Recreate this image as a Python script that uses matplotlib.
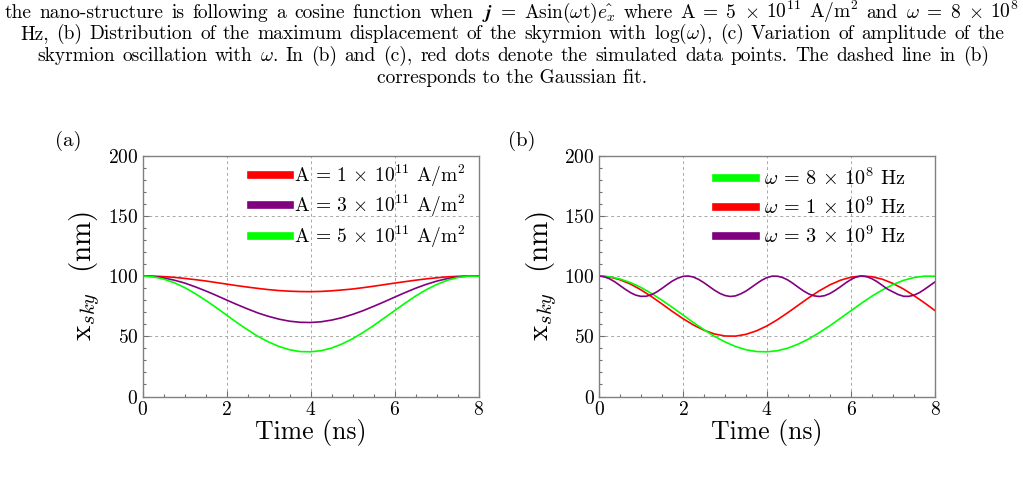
import numpy as np
import matplotlib
matplotlib.use("Agg")
import matplotlib.pyplot as plt
from matplotlib.ticker import MultipleLocator

plt.rcParams['font.family'] = 'serif'
plt.rcParams['font.serif'] = ['cmr10']
plt.rcParams['mathtext.fontset'] = 'cm'
plt.rcParams['axes.formatter.use_mathtext'] = True
plt.rcParams['axes.unicode_minus'] = False

# ---------------- data ----------------
t_coarse = np.linspace(0, 8, 33)   # 0.25 ns sampling
t_fine = np.linspace(0, 8, 65)     # 0.125 ns sampling

# panel (a): different current amplitudes, omega = 8e8 Hz
a_red = [100, 99.9, 99.5, 98.9, 98.0, 97.0, 95.9, 94.6, 93.3, 92.0, 90.8, 89.7,
         88.7, 87.9, 87.4, 87.1, 87.0, 87.2, 87.7, 88.4, 89.2, 90.3, 91.5, 92.8,
         94.1, 95.3, 96.5, 97.6, 98.5, 99.3, 99.7, 100, 100]
a_purple = [100, 99.6, 98.5, 96.6, 94.2, 91.1, 87.7, 84.0, 80.1, 76.3, 72.7, 69.3,
            66.5, 64.2, 62.5, 61.6, 61.4, 62.0, 63.4, 65.4, 68.1, 71.2, 74.8, 78.5,
            82.4, 86.2, 89.8, 93.0, 95.7, 97.8, 99.2, 99.9, 99.9]
a_green = [100, 99.4, 97.5, 94.5, 90.5, 85.5, 79.9, 73.9, 67.6, 61.3, 55.4, 49.9,
           45.3, 41.5, 38.8, 37.3, 37.1, 38.0, 40.2, 43.6, 47.9, 53.1, 58.8, 65.0,
           71.2, 77.4, 83.3, 88.5, 92.9, 96.4, 98.7, 99.9, 99.8]
a_labels = [r'A = 1 $\times$ 10$^{11}$ A/m$^2$',
            r'A = 3 $\times$ 10$^{11}$ A/m$^2$',
            r'A = 5 $\times$ 10$^{11}$ A/m$^2$']

# panel (b): different frequencies, A = 5e11 A/m^2
b_green = a_green
b_red = [100, 99.2, 96.9, 93.3, 88.5, 82.9, 76.8, 70.5, 64.6, 59.3, 55.0, 51.9,
         50.2, 50.1, 51.6, 54.5, 58.6, 63.8, 69.7, 75.9, 82.1, 87.8, 92.7, 96.5,
         99.0, 100, 99.4, 97.3, 93.8, 89.2, 83.7, 77.7, 71.3]
b_purple = [100, 99.4, 97.7, 95.2, 92.1, 89.0, 86.2, 84.1, 83.1, 83.2, 84.5, 86.8,
            89.7, 92.9, 95.9, 98.2, 99.7, 100, 99.1, 97.1, 94.4, 91.3, 88.2, 85.6,
            83.8, 83.0, 83.5, 85.2, 87.5, 90.5, 93.6, 96.5, 98.7, 99.9, 99.8, 98.7,
            96.6, 93.7, 90.5, 87.5, 85.0, 83.5, 83.0, 83.7, 85.5, 88.1, 91.1, 94.3,
            97.1, 99.2, 100, 99.4, 97.7, 95.2, 92.1, 89.0, 86.8, 84.6, 83.2, 83.1,
            84.1, 86.1, 88.9, 92.0, 95.1]
b_labels = [r'$\omega$ = 8 $\times$ 10$^8$ Hz',
            r'$\omega$ = 1 $\times$ 10$^9$ Hz',
            r'$\omega$ = 3 $\times$ 10$^9$ Hz']

RED, PURPLE, GREEN = '#ff0000', '#800080', '#00ff00'

caption_lines = [
    r'the nano-structure is following a cosine function when $\mathbfit{j}$ = Asin($\omega$t)$\hat{e_x}$ where A = 5 $\times$ 10$^{11}$ A/m$^2$ and $\omega$ = 8 $\times$ 10$^8$',
    r'Hz, (b) Distribution of the maximum displacement of the skyrmion with log($\omega$), (c) Variation of amplitude of the',
    r'skyrmion oscillation with $\omega$. In (b) and (c), red dots denote the simulated data points. The dashed line in (b)',
    r'corresponds to the Gaussian fit.',
]

# ---------------- figure ----------------
W, H = 1023, 484
fig = plt.figure(figsize=(W / 100, H / 100), dpi=100)
renderer = fig.canvas.get_renderer()

CAP_SIZE = 14.0


def measure(s, size):
    t = fig.text(0, 0, s, fontsize=size)
    try:
        w = t.get_window_extent(renderer).width
    finally:
        t.remove()
    return w


def justify(line, ybase, x0, x1, size):
    words = line.split(' ')
    widths = []
    for i, w in enumerate(words):
        try:
            widths.append(measure(w, size))
        except Exception:
            words[i] = w.replace(r'\mathbfit', r'\mathbf')
            widths.append(measure(words[i], size))
    gap = (x1 - x0 - sum(widths)) / (len(words) - 1)
    if gap < 4:
        size = size * (x1 - x0 - 4 * (len(words) - 1)) / sum(widths)
        widths = [measure(w, size) for w in words]
        gap = (x1 - x0 - sum(widths)) / (len(words) - 1)
    x = x0
    for w, wd in zip(words, widths):
        fig.text(x / W, 1 - ybase / H, w, fontsize=size, va='baseline', ha='left')
        x += wd + gap


justify(caption_lines[0], 18, 5, 1019, CAP_SIZE)
justify(caption_lines[1], 39, 20, 1004, CAP_SIZE)
justify(caption_lines[2], 61, 37, 989, CAP_SIZE)
fig.text(512 / W, 1 - 83 / H, caption_lines[3], fontsize=CAP_SIZE,
         va='baseline', ha='center')

axA = fig.add_axes([142.5 / W, 1 - 396.5 / H, 336 / W, 241 / H])
axB = fig.add_axes([599 / W, 1 - 396.5 / H, 336 / W, 241 / H])

lw = 1.2
axA.plot(t_coarse, a_red, color=RED, lw=lw, label=a_labels[0])
axA.plot(t_coarse, a_purple, color=PURPLE, lw=lw, label=a_labels[1])
axA.plot(t_coarse, a_green, color=GREEN, lw=lw, label=a_labels[2])

lB_red, = axB.plot(t_coarse, b_red, color=RED, lw=lw, label=b_labels[1])
lB_green, = axB.plot(t_coarse, b_green, color=GREEN, lw=lw, label=b_labels[0])
lB_purple, = axB.plot(t_fine, b_purple, color=PURPLE, lw=lw, label=b_labels[2])

for ax in (axA, axB):
    ax.set_xlim(0, 8)
    ax.set_ylim(0, 200)
    ax.xaxis.set_major_locator(MultipleLocator(2))
    ax.xaxis.set_minor_locator(MultipleLocator(0.5))
    ax.yaxis.set_major_locator(MultipleLocator(50))
    ax.yaxis.set_minor_locator(MultipleLocator(10))
    ax.tick_params(which='both', direction='in', top=False, right=False,
                   colors='#707070', labelcolor='black', labelsize=14, width=0.8)
    ax.tick_params(which='major', length=4.5, pad=3)
    ax.tick_params(which='minor', length=2.5)
    for sp in ax.spines.values():
        sp.set_color('#808080')
        sp.set_linewidth(1.0)
    ax.grid(True, which='major', color='#a8a8a8', linestyle=(0, (3, 3)), linewidth=0.7)
    ax.set_axisbelow(True)
    ax.set_xlabel('Time (ns)', fontsize=18.5, labelpad=0)
    ax.set_ylabel(r'x$_{sky}$  (nm)', fontsize=21, labelpad=4)

legA = axA.legend(loc='upper right', bbox_to_anchor=(0.995, 1.02), frameon=False,
                  fontsize=14, handlelength=2.0, handletextpad=0.2,
                  labelspacing=0.22, borderaxespad=0.2)
legB = axB.legend([lB_green, lB_red, lB_purple], [b_labels[0], b_labels[1], b_labels[2]],
                  loc='upper right', bbox_to_anchor=(0.95, 1.0), frameon=False,
                  fontsize=14.5, handlelength=2.0, handletextpad=0.4,
                  labelspacing=0.38, borderaxespad=0.2)
for leg in (legA, legB):
    for h in leg.get_lines():
        h.set_linewidth(5.5)

fig.text(68 / W, 1 - 141 / H, '(a)', fontsize=15, ha='center', va='center')
fig.text(522 / W, 1 - 141 / H, '(b)', fontsize=15, ha='center', va='center')

fig.savefig('out.png', dpi=100)
